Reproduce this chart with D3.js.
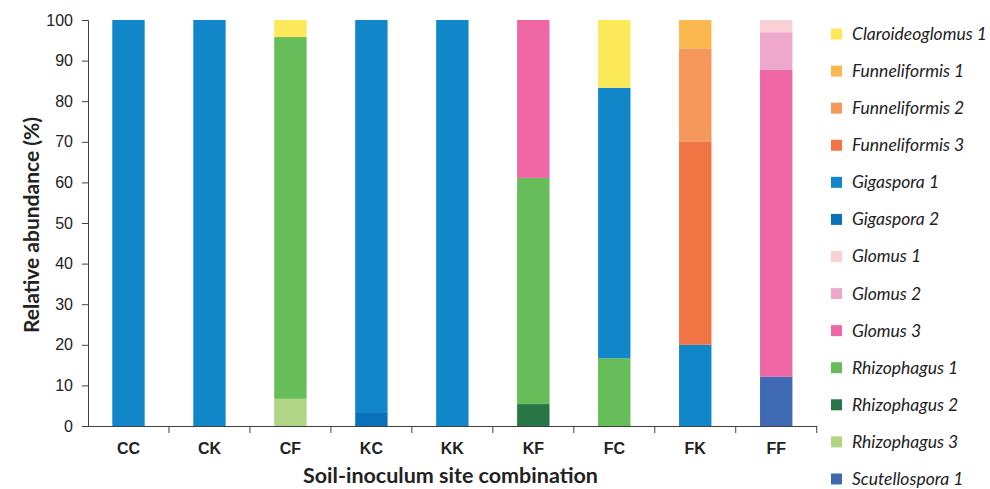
<!DOCTYPE html>
<html><head><meta charset="utf-8">
<script src="https://cdn.jsdelivr.net/npm/d3@7"></script>
<style>body{margin:0;background:#fff;} svg{display:block;font-family:Lato,"Open Sans",sans-serif;}</style>
</head><body><svg id="c" width="990" height="489"></svg>
<script>
const categories = ["CC","CK","CF","KC","KK","KF","FC","FK","FF"];
const taxa = ["Claroideoglomus 1","Funneliformis 1","Funneliformis 2","Funneliformis 3","Gigaspora 1","Gigaspora 2","Glomus 1","Glomus 2","Glomus 3","Rhizophagus 1","Rhizophagus 2","Rhizophagus 3","Scutellospora 1"];
const colors = ["#FCE95A","#FBB84E","#F6975B","#F17445","#1187C9","#0A70B8","#F9D0D3","#EEA8CC","#EF68A5","#66BD5A","#287645","#B0D585","#3F6AB3"];
// stacking order bottom->top
const stackOrder = ["Scutellospora 1","Rhizophagus 3","Rhizophagus 2","Gigaspora 2","Rhizophagus 1","Gigaspora 1","Funneliformis 3","Funneliformis 2","Glomus 3","Glomus 2","Glomus 1","Funneliformis 1","Claroideoglomus 1"];
// values per taxon, in category order
const claroideoglomus1 = [0,0,4.2,0,0,0,16.7,0,0];
const funneliformis1   = [0,0,0,0,0,0,0,7.0,0];
const funneliformis2   = [0,0,0,0,0,0,0,23.0,0];
const funneliformis3   = [0,0,0,0,0,0,0,50.0,0];
const gigaspora1       = [100,100,0,96.8,100,0,66.6,20.0,0];
const gigaspora2       = [0,0,0,3.2,0,0,0,0,0];
const glomus1          = [0,0,0,0,0,0,0,0,3.0];
const glomus2          = [0,0,0,0,0,0,0,0,9.3];
const glomus3          = [0,0,0,0,0,38.9,0,0,75.6];
const rhizophagus1     = [0,0,89.1,0,0,55.7,16.7,0,0];
const rhizophagus2     = [0,0,0,0,0,5.4,0,0,0];
const rhizophagus3     = [0,0,6.7,0,0,0,0,0,0];
const scutellospora1   = [0,0,0,0,0,0,0,0,12.1];
const yTicks = [0,10,20,30,40,50,60,70,80,90,100];

const series = {"Claroideoglomus 1":claroideoglomus1,"Funneliformis 1":funneliformis1,"Funneliformis 2":funneliformis2,"Funneliformis 3":funneliformis3,"Gigaspora 1":gigaspora1,"Gigaspora 2":gigaspora2,"Glomus 1":glomus1,"Glomus 2":glomus2,"Glomus 3":glomus3,"Rhizophagus 1":rhizophagus1,"Rhizophagus 2":rhizophagus2,"Rhizophagus 3":rhizophagus3,"Scutellospora 1":scutellospora1};
const rows = categories.map((c,i)=>{const r={cat:c}; taxa.forEach(t=>r[t]=series[t][i]); return r;});
const color = d3.scaleOrdinal().domain(taxa).range(colors);

const svg = d3.select("#c");
const m = {l:88, t:20, b:426, rEnd:816.7};
const x = d3.scaleBand().domain(categories).range([m.l,m.rEnd]).paddingInner(0.6).paddingOuter(0.3);
const y = d3.scaleLinear().domain([0,100]).range([m.b,m.t]);

const stack = d3.stack().keys(stackOrder)(rows);
svg.append("g").selectAll("g").data(stack).join("g").attr("fill",d=>color(d.key))
  .selectAll("rect").data(d=>d).join("rect")
  .attr("x",d=>x(d.data.cat)).attr("width",x.bandwidth())
  .attr("y",d=>y(d[1])).attr("height",d=>y(d[0])-y(d[1]));

const yAxis = svg.append("g").attr("transform",`translate(${m.l},0)`)
  .call(d3.axisLeft(y).tickValues(yTicks).tickSize(6).tickPadding(9));
yAxis.select(".domain").attr("stroke","#404040");
yAxis.selectAll(".tick line").attr("stroke","#404040");
yAxis.selectAll("text").attr("font-size",16).attr("fill","#222");

const xb = d3.scaleBand().domain(categories).range([m.l,m.rEnd]);
const xAxis = svg.append("g").attr("transform",`translate(0,${m.b})`)
  .call(d3.axisBottom(xb).tickSize(0).tickPadding(17).tickSizeOuter(0));
xAxis.select(".domain").attr("stroke","#404040");
xAxis.selectAll("text").attr("font-size",16).attr("font-weight","bold").attr("fill","#222");
// category boundary tick marks
svg.append("g").selectAll("line").data(categories).join("line")
  .attr("x1",(d,i)=>m.l+xb.step()*(i+1)).attr("x2",(d,i)=>m.l+xb.step()*(i+1))
  .attr("y1",m.b).attr("y2",m.b+7).attr("stroke","#404040");

svg.append("text").attr("transform","translate(39,225) rotate(-90)").attr("text-anchor","middle")
  .attr("font-size",21).attr("font-weight","bold").attr("fill","#222").text("Relative abundance (%)");
svg.append("text").attr("x",450.5).attr("y",483).attr("text-anchor","middle")
  .attr("font-size",21.5).attr("font-weight","bold").attr("fill","#222").text("Soil-inoculum site combination");

const lg = svg.append("g").selectAll("g").data(taxa).join("g")
  .attr("transform",(d,i)=>`translate(831,${34+i*37.08})`);
lg.append("rect").attr("x",0).attr("y",-5.5).attr("width",11).attr("height",11).attr("fill",d=>color(d));
lg.append("text").attr("x",21).attr("y",6).attr("font-size",17.5).attr("font-style","italic").attr("fill","#222").text(d=>d);
</script></body></html>
